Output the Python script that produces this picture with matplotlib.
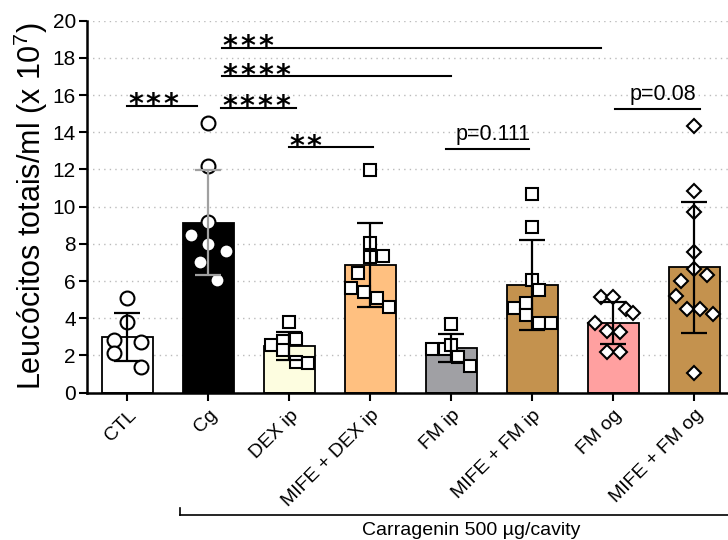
import numpy as np
import matplotlib
matplotlib.use("Agg")
import matplotlib.pyplot as plt
from matplotlib.lines import Line2D
from matplotlib.transforms import offset_copy

plt.rcParams['font.family'] = ['Liberation Sans', 'DejaVu Sans']
plt.rcParams['mathtext.fontset'] = 'custom'
plt.rcParams['mathtext.rm'] = 'Liberation Sans'
plt.rcParams['mathtext.it'] = 'Liberation Sans'

categories = ["CTL", "Cg", "DEX ip", "MIFE + DEX ip", "FM ip",
              "MIFE + FM ip", "FM og", "MIFE + FM og"]

ctl = [5.1, 3.8, 2.85, 2.75, 2.15, 1.4]
cg = [14.5, 12.2, 9.2, 8.5, 8.0, 7.6, 7.05, 6.05]
dex_ip = [3.82, 2.89, 2.78, 2.56, 2.3, 1.67, 1.6]
mife_dex_ip = [11.97, 8.03, 7.31, 7.35, 6.45, 5.61, 5.4, 5.07, 4.62]
fm_ip = [3.69, 2.35, 2.35, 2.56, 1.94, 1.45]
mife_fm_ip = [10.68, 8.93, 6.06, 5.52, 4.54, 4.8, 4.18, 3.76, 3.76]
fm_og = [5.16, 5.16, 4.48, 4.27, 3.73, 3.32, 3.28, 2.17, 2.17]
mife_fm_og = [14.35, 10.86, 9.73, 7.55, 6.63, 6.33, 6.02, 5.2, 4.48, 4.48, 4.21, 1.04]

groups = [ctl, cg, dex_ip, mife_dex_ip, fm_ip, mife_fm_ip, fm_og, mife_fm_og]

# horizontal scatter offsets of the points (layout only)
jitter = [
    [0, 0, -0.17, 0.17, -0.17, 0.17],
    [0, 0, 0, -0.22, 0, 0.22, -0.11, 0.11],
    [0, 0.08, -0.08, -0.23, -0.08, 0.08, 0.23],
    [0, 0, 0, 0.16, -0.16, -0.24, -0.08, 0.08, 0.23],
    [0, -0.24, -0.08, 0, 0.08, 0.23],
    [0, 0, 0, 0.08, -0.23, -0.08, -0.08, 0.08, 0.23],
    [-0.16, 0, 0.15, 0.24, -0.23, -0.08, 0.08, -0.08, 0.08],
    [0, 0, 0, 0, 0, 0.15, -0.17, -0.23, -0.09, 0.07, 0.23, 0],
]

bar_colors = ["#FFFFFF", "#000000", "#FDFDE0", "#FFC080", "#A0A0A4",
              "#C4924E", "#FFA0A0", "#C4924E"]
err_colors = ["k", "#A0A0A0", "k", "k", "k", "k", "k", "k"]
markers = ["o", "o", "s", "s", "s", "s", "D", "D"]
msizes = [10.0, 10.0, 9.0, 9.0, 9.0, 9.0, 6.8, 6.8]

# significance annotations: (x0, x1, y, label)
sig_lines = [
    (0.0, 0.86, 15.41, "***"),
    (1.17, 5.84, 18.53, "***"),
    (1.17, 4.0, 17.0, "****"),
    (1.16, 2.08, 15.32, "****"),
    (1.99, 3.03, 13.2, "**"),
]
p_lines = [
    (3.93, 4.96, 13.09, "p=0.111"),
    (6.02, 7.07, 15.27, "p=0.08"),
]

fig = plt.figure(figsize=(7.28, 5.40), dpi=100)
ax = fig.add_axes([0.1195, 0.2728, 0.8901, 0.6889])

x = np.arange(len(categories))
means = [np.mean(g) for g in groups]
sds = [np.std(g, ddof=1) for g in groups]

ax.bar(x, means, width=0.64, color=bar_colors, edgecolor="black",
       linewidth=1.3, zorder=2)

for i, g in enumerate(groups):
    ax.plot(x[i] + np.array(jitter[i]), g, linestyle="none", marker=markers[i],
            markersize=msizes[i], markerfacecolor="white",
            markeredgecolor="black", markeredgewidth=1.5, zorder=3)
    ax.errorbar(x[i], means[i], yerr=sds[i], fmt="none", ecolor=err_colors[i],
                elinewidth=1.6, capsize=9.5, capthick=1.6, zorder=4)

STAR_FS = 20.5
for x0, x1, y, lab in sig_lines:
    ax.plot([x0, x1], [y, y], color="black", lw=1.5, clip_on=False, zorder=5)
    for k, ch in enumerate(lab):
        tr = offset_copy(ax.transData, fig=fig,
                         x=5.8 + 12.7 * k, y=6.5 - 0.575 * STAR_FS,
                         units="points")
        ax.text(x0, y, ch, transform=tr, fontsize=STAR_FS,
                family="DejaVu Sans", fontweight="bold",
                ha="center", va="baseline", zorder=5)
for x0, x1, y, lab in p_lines:
    ax.plot([x0, x1], [y, y], color="black", lw=1.5, clip_on=False, zorder=5)
    ax.text((x0 + x1) / 2 + 0.07, y + 0.78, lab, fontsize=15.5,
            ha="center", va="center", zorder=5)

ax.set_xlim(-0.5, 7.5)
ax.set_ylim(0, 20)
ax.set_yticks(np.arange(0, 21, 2))
ax.set_xticks(x)
ax.set_xticklabels(categories, rotation=45, ha="right",
                   rotation_mode="anchor", fontsize=14)
ax.tick_params(axis="y", labelsize=15, width=1.5, length=6, pad=2)
ax.tick_params(axis="x", width=1.5, length=6, pad=4)
ax.yaxis.grid(True, linestyle=(0, (1, 3)), color="#BBBBBB", lw=1.0, zorder=0)
ax.set_axisbelow(True)
for s in ["top", "right"]:
    ax.spines[s].set_visible(False)
for s in ["left", "bottom"]:
    ax.spines[s].set_linewidth(1.8)

ax.set_ylabel("Leucócitos totais/ml (x 10$^{7}$)", fontsize=22, labelpad=2)

# carragenin bracket
fig.add_artist(Line2D([0.247, 1.0], [0.0463, 0.0463], color="black", lw=1.2))
fig.add_artist(Line2D([0.247, 0.247], [0.0463, 0.059], color="black", lw=1.2))
fig.text(0.647, 0.0167, "Carragenin 500 µg/cavity", fontsize=14,
         ha="center", va="center")

fig.savefig("out.png", dpi=100)
